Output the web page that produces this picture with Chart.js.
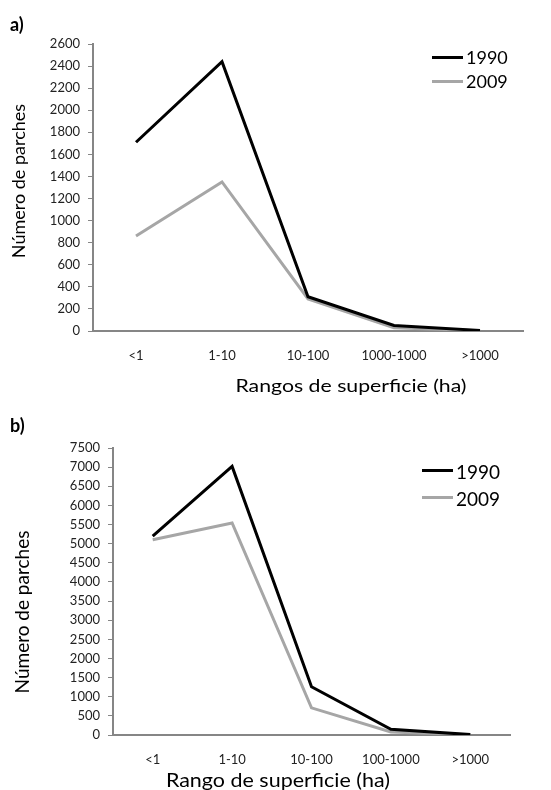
<!DOCTYPE html>
<html>
<head>
<meta charset="utf-8">
<script src="https://cdn.jsdelivr.net/npm/chart.js@4/dist/chart.umd.min.js"></script>
<style>
  body { margin: 0; background: #fff; font-family: Lato, "Open Sans", sans-serif; }
  #page { position: relative; width: 551px; height: 790px; overflow: hidden; }
  .panel { position: absolute; left: 0; width: 551px; height: 395px; }
  .txt { position: absolute; white-space: nowrap; color: #000; }
  .lbl { font-weight: bold; font-size: 18px; }
  .ytit { transform: translate(-50%, -50%) rotate(-90deg); }
  .leg { position: absolute; }
  .leg div { position: relative; }
  .leg span.sw { position: absolute; left: 0; top: 50%; height: 3px; margin-top: -1.5px; }
  .leg span.t { position: absolute; top: 50%; transform: translateY(-50%); }
</style>
</head>
<body>
<div id="page">
  <div class="panel" style="top:0"><canvas id="chartA" width="551" height="395"></canvas></div>
  <div class="panel" style="top:395px"><canvas id="chartB" width="551" height="395"></canvas></div>

  <div class="txt lbl" style="left:10px; top:13px">a)</div>
  <div class="txt lbl" style="left:10px; top:414px">b)</div>

  <div class="txt ytit" style="left:18px; top:181px; font-size:18px">Número de parches</div>
  <div class="txt ytit" style="left:21px; top:612px; font-size:19px">Número de parches</div>

  <div class="txt" style="left:351px; top:385px; font-size:17px; transform: translate(-50%, -50%) scaleX(1.25)">Rangos de superficie (ha)</div>
  <div class="txt" style="left:278px; top:779px; font-size:19px; transform: translate(-50%, -50%) scaleX(1.13)">Rango de superficie (ha)</div>

  <div class="leg" id="legA" style="left:432px; top:45px"></div>
  <div class="leg" id="legB" style="left:422px; top:457px"></div>
</div>

<script>
// datos
var rangosA = ['<1', '1-10', '10-100', '1000-1000', '>1000'];
var rangosB = ['<1', '1-10', '10-100', '100-1000', '>1000'];
var anios = ['1990', '2009'];

var parchesA1990 = [1710, 2440, 310, 50, 5];
var parchesA2009 = [860, 1350, 290, 30, 2];
var parchesB1990 = [5200, 7020, 1260, 150, 10];
var parchesB2009 = [5100, 5540, 710, 80, 5];

var colores = ['#000000', '#a6a6a6'];
var ejeColor = '#868686';
var fuente = 'Lato, "Open Sans", sans-serif';

function crearGrafico(id, rangos, serie1, serie2, yMax, paso, area) {
    var ctx = document.getElementById(id).getContext('2d');
    var config = {
        type: 'line',
        data: {
            labels: rangos,
            datasets: [{
                label: anios[0],
                data: serie1,
                borderColor: colores[0],
                backgroundColor: colores[0],
                borderWidth: 3,
                pointRadius: 0,
                fill: false,
                tension: 0
            }, {
                label: anios[1],
                data: serie2,
                borderColor: colores[1],
                backgroundColor: colores[1],
                borderWidth: 3,
                pointRadius: 0,
                fill: false,
                tension: 0
            }]
        },
        options: {
            responsive: false,
            animation: false,
            devicePixelRatio: 1,
            layout: {
                padding: { left: 0, top: area.top, right: 551 - area.right, bottom: 0 }
            },
            plugins: {
                legend: { display: false },
                tooltip: { enabled: false }
            },
            scales: {
                x: {
                    offset: true,
                    grid: { display: false },
                    border: { color: ejeColor, width: 2 },
                    ticks: { color: '#222', padding: 9, maxRotation: 0, font: { family: fuente, size: 13 } },
                    afterFit: function (s) { s.height = 395 - area.bottom; }
                },
                y: {
                    min: 0,
                    max: yMax,
                    grid: { display: true, drawOnChartArea: false, drawTicks: true, tickLength: 5, color: ejeColor },
                    border: { color: ejeColor, width: 2 },
                    ticks: {
                        stepSize: paso,
                        color: '#222',
                        padding: 8,
                        font: { family: fuente, size: 13 },
                        callback: function (v) { return String(v); }
                    },
                    afterFit: function (s) { s.width = area.left; }
                }
            }
        }
    };
    return new Chart(ctx, config);
}

function crearLeyenda(id, tam, alto) {
    var cont = document.getElementById(id);
    for (var i = 0; i < anios.length; i++) {
        var fila = document.createElement('div');
        fila.style.height = alto + 'px';
        fila.innerHTML = '<span class="sw" style="width:31px;background:' + colores[i] + '"></span>' +
            '<span class="t" style="left:34px;font-size:' + tam + 'px">' + anios[i] + '</span>';
        cont.appendChild(fila);
    }
}

crearGrafico('chartA', rangosA, parchesA1990, parchesA2009, 2600, 200, { left: 93, right: 523, top: 44, bottom: 331 });
crearGrafico('chartB', rangosB, parchesB1990, parchesB2009, 7500, 500, { left: 113, right: 510, top: 53, bottom: 340 });
crearLeyenda('legA', 18, 24);
crearLeyenda('legB', 19, 27);
</script>
</body>
</html>
